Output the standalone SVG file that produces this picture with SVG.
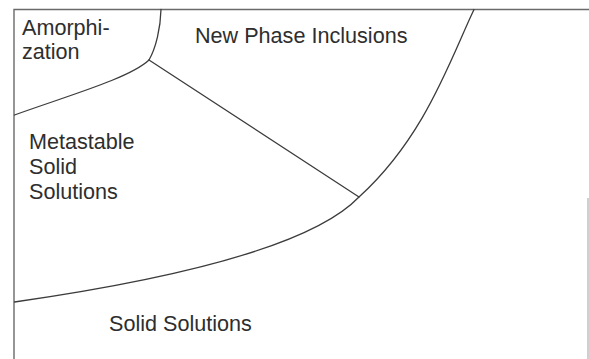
<svg xmlns="http://www.w3.org/2000/svg" width="589" height="359" viewBox="0 0 589 359">
  <style>
    .frame { fill: none; stroke: #6a6a6a; stroke-width: 1.4; }
    .edge  { fill: none; stroke: #3c3c3c; stroke-width: 1.3; stroke-linecap: round; }
    .lbl   { font-family: "Liberation Sans", Arial, sans-serif; font-size: 21.6px; fill: #2e2e2e; }
  </style>
  <rect width="589" height="359" fill="#ffffff"/>

  <!-- plot frame: top and left axes, faint right edge -->
  <g id="frame">
    <path class="frame" d="M14,359 V9.5 H589"/>
    <path d="M588,198 V359" stroke="#b0b0b0" stroke-width="1.2" fill="none"/>
  </g>

  <!-- region boundaries -->
  <g id="connectors">
    <path class="edge" d="M161,9.5 C160.5,28 156,48 149,60"/>
    <path class="edge" d="M149,60 C130,78 70,95 14.5,115"/>
    <path class="edge" d="M149,60 L359,197"/>
    <path class="edge" d="M474,9.5 C450,60 425,137 359,197 C318,240 202,275 14.5,302"/>
  </g>

  <g id="amorphization">
    <text class="lbl" x="22" y="34.5">Amorphi-</text>
    <text class="lbl" x="22" y="59.3">zation</text>
  </g>

  <g id="new-phase-inclusions">
    <text class="lbl" x="195" y="42.7">New Phase Inclusions</text>
  </g>

  <g id="metastable-solid-solutions">
    <text class="lbl" x="29" y="149.3">Metastable</text>
    <text class="lbl" x="29" y="174">Solid</text>
    <text class="lbl" x="29" y="198.7">Solutions</text>
  </g>

  <g id="solid-solutions">
    <text class="lbl" x="109" y="330.5">Solid Solutions</text>
  </g>
</svg>
